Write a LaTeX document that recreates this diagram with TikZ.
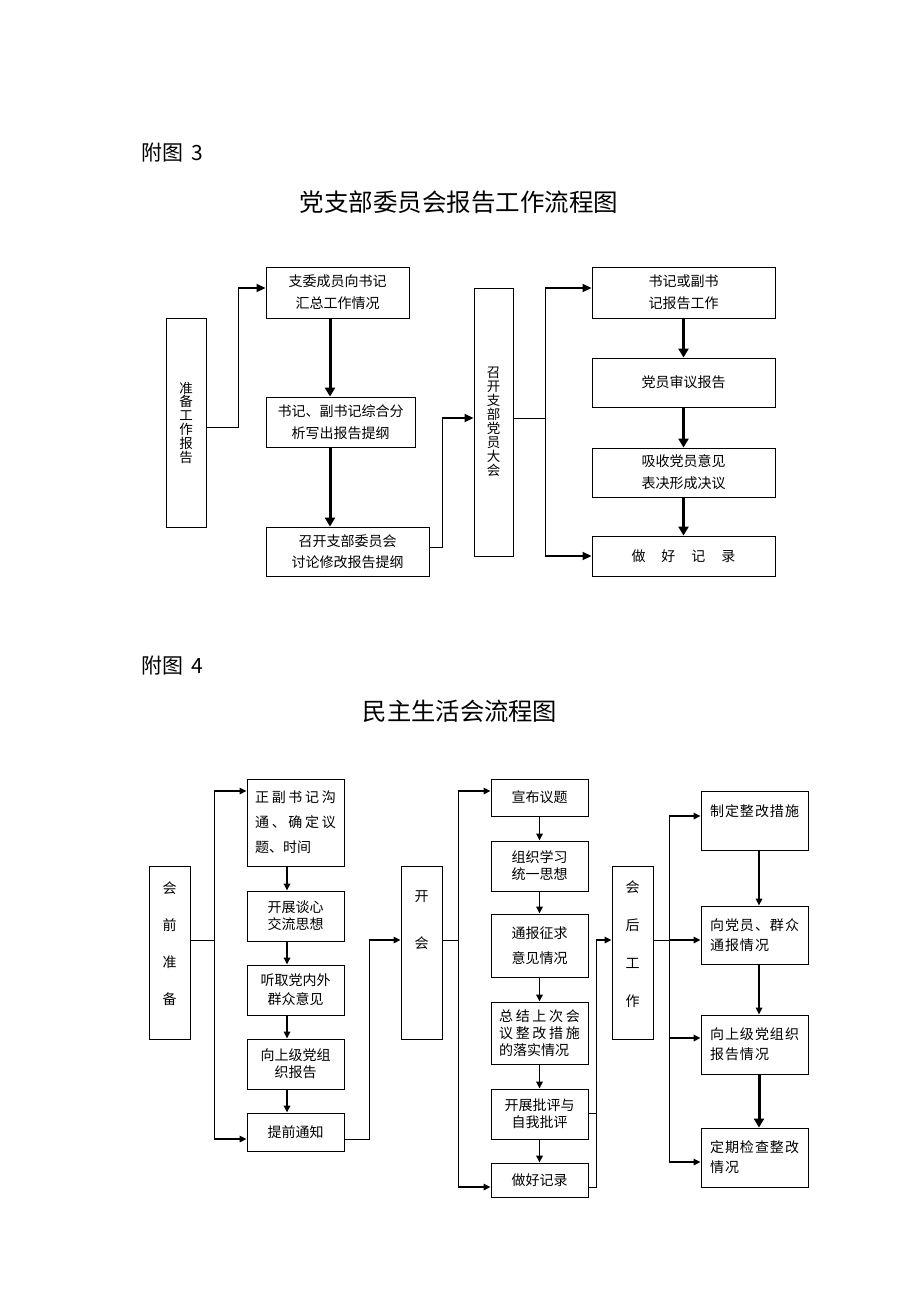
\documentclass[tikz,border=0pt]{standalone}
\usepackage{fontspec}
\setmainfont{Noto Sans CJK SC}
\usetikzlibrary{arrows.meta}
\newcommand\gp{\hspace{2.7pt}}
\newcommand\gq{\hspace{1pt}}
\begin{document}
\begin{tikzpicture}[x=1pt,y=-1pt,
  box/.style={draw, line width=0.9pt, inner sep=0pt, align=center},
  tt/.style={font=\fontsize{14}{22}\selectfont},
  bt/.style={font=\fontsize{14}{17}\selectfont},
  conn/.style={line width=1pt},
  arrV/.style={line width=3pt, -{Triangle[length=9pt,width=10pt]}},
  arrH/.style={line width=1.8pt, -{Triangle[length=9pt,width=8pt]}},
  arrB/.style={line width=1.5pt, -{Triangle[length=7pt,width=6.5pt]}},
  plain/.style={inner sep=0pt}
]
\useasboundingbox (0,0) rectangle (920,1302);

% ---------- headings ----------
\node[plain, anchor=west, font=\fontsize{21}{25}\selectfont] (h3) at (141,152.5) {附图\hspace{8pt}3};
\node[plain, font=\fontsize{24.5}{28}\selectfont] (t3) at (459,202) {党支部委员会报告工作流程图};
\node[plain, anchor=west, font=\fontsize{21}{25}\selectfont] (h4) at (141,666) {附图\hspace{8pt}4};
\node[plain, font=\fontsize{24.3}{28}\selectfont] (t4) at (460,711) {民主生活会流程图};

% ---------- top diagram ----------
\node[box, minimum width=40pt, minimum height=209pt, font=\fontsize{13.5}{13.8}\selectfont] (p1) at (186,422.5) {准\\备\\工\\作\\报\\告};
\node[box, tt, minimum width=143pt, minimum height=51pt] (b1) at (337.5,292.5) {支委成员向书记\\汇总工作情况};
\node[box, tt, minimum width=149pt, minimum height=50pt] (b2) at (340.5,422) {书记、副书记综合分\\析写出报告提纲};
\node[box, tt, minimum width=163pt, minimum height=49pt, font=\fontsize{14}{21}\selectfont] (b3) at (347.5,551.5) {召开支部委员会\\讨论修改报告提纲};
\node[box, minimum width=39pt, minimum height=268pt, font=\fontsize{13.5}{14}\selectfont] (m1) at (493.5,422) {召\\开\\支\\部\\党\\员\\大\\会};
\node[box, tt, minimum width=183pt, minimum height=51pt] (r1) at (683.5,292.5) {书记或副书\\记报告工作};
\node[box, tt, minimum width=183pt, minimum height=49pt] (r2) at (683.5,382.5) {党员审议报告};
\node[box, tt, minimum width=183pt, minimum height=49pt] (r3) at (683.5,472.5) {吸收党员意见\\表决形成决议};
\node[box, tt, minimum width=183pt, minimum height=40pt] (r4) at (683.5,556) {做\hspace{16pt}好\hspace{16pt}记\hspace{16pt}录};

\coordinate (xa) at (330,0);
\coordinate (ja0) at (238,427);
\coordinate (ja) at (238,288);
\draw[conn] (p1.east |- ja0) -- (ja0) -- (ja);
\draw[arrH] (ja) -- (ja -| b1.west);
\draw[arrV] (b1.south -| xa) -- (b2.north -| xa);
\draw[arrV] (b2.south -| xa) -- (b3.north -| xa);
\coordinate (jb0) at (442,547);
\coordinate (jb) at (442,418);
\draw[conn] (b3.east |- jb0) -- (jb0) -- (jb);
\draw[arrH] (jb) -- (jb -| m1.west);
\coordinate (jc) at (545,418);
\coordinate (jd) at (545,288);
\coordinate (je) at (545,556);
\draw[conn] (m1.east |- jc) -- (jc);
\draw[conn] (jd) -- (je);
\draw[arrH] (jd) -- (jd -| r1.west);
\draw[arrH] (je) -- (je -| r4.west);
\draw[arrV] (r1.south) -- (r2.north);
\draw[arrV] (r2.south) -- (r3.north);
\draw[arrV] (r3.south) -- (r4.north);

% ---------- bottom diagram ----------
\node[box, minimum width=41pt, minimum height=173pt] (L1) at (169.5,952.5) {};
\node[plain, align=center, font=\fontsize{14}{37}\selectfont] (L1t) at (169.5,944) {会\\前\\准\\备};
\node[box, bt, minimum width=97pt, minimum height=87pt, align=left, font=\fontsize{14}{25}\selectfont] (A1) at (295.5,822.5) {正\gp{}副\gp{}书\gp{}记\gp{}沟\\通\gp{}、\gp{}确\gp{}定\gp{}议\\题、时间};
\node[box, bt, minimum width=97pt, minimum height=50pt] (A2) at (295.5,916) {开展谈心\\交流思想};
\node[box, bt, minimum width=97pt, minimum height=50pt, font=\fontsize{14}{19}\selectfont] (A3) at (295.5,990) {听取党内外\\群众意见};
\node[box, bt, minimum width=97pt, minimum height=50pt] (A4) at (295.5,1064) {向上级党组\\织报告};
\node[box, bt, minimum width=97pt, minimum height=38pt] (A5) at (295.5,1132) {提前通知};

\node[box, minimum width=41pt, minimum height=173pt] (K1) at (421.5,952.5) {};
\node[plain, align=center, font=\fontsize{14}{47}\selectfont] (K1t) at (421.5,920) {开\\会};

\node[box, bt, minimum width=97pt, minimum height=37pt] (B1) at (539.5,797.5) {宣布议题};
\node[box, bt, minimum width=97pt, minimum height=50pt] (B2) at (539.5,866) {组织学习\\统一思想};
\node[box, bt, minimum width=97pt, minimum height=63pt, font=\fontsize{14}{25}\selectfont] (B3) at (539.5,945.5) {通报征求\\意见情况};
\node[box, bt, minimum width=97pt, minimum height=62pt, align=left] (B4) at (539.5,1033) {总\gp{}结\gp{}上\gp{}次\gp{}会\\议\gp{}整\gp{}改\gp{}措\gp{}施\\的落实情况};
\node[box, bt, minimum width=97pt, minimum height=50pt] (B5) at (539.5,1114) {开展批评与\\自我批评};
\node[box, bt, minimum width=97pt, minimum height=34pt] (B6) at (539.5,1180) {做好记录};

\node[box, minimum width=41pt, minimum height=173pt] (H1) at (632.5,952.5) {};
\node[plain, align=center, font=\fontsize{14}{38}\selectfont] (H1t) at (632.5,944) {会\\后\\工\\作};

\node[box, bt, minimum width=107pt, minimum height=59pt, align=left, font=\fontsize{14}{20}\selectfont] (C1) at (754.5,820.5) {制\gq{}定\gq{}整\gq{}改\gq{}措\gq{}施\\\mbox{}};
\node[box, bt, minimum width=107pt, minimum height=58pt, align=left, font=\fontsize{14}{20}\selectfont] (C2) at (754.5,935) {向\gq{}党\gq{}员\gq{}、\gq{}群\gq{}众\\通\gq{}报\gq{}情\gq{}况};
\node[box, bt, minimum width=107pt, minimum height=59pt, align=left, font=\fontsize{14}{20}\selectfont] (C3) at (754.5,1044.5) {向\gq{}上\gq{}级\gq{}党\gq{}组\gq{}织\\报\gq{}告\gq{}情\gq{}况};
\node[box, bt, minimum width=107pt, minimum height=59pt, align=left, font=\fontsize{14}{20}\selectfont] (C4) at (754.5,1157.5) {定\gq{}期\gq{}检\gq{}查\gq{}整\gq{}改\\情\gq{}况};

% connectors left group
\coordinate (k1) at (214,940);
\coordinate (k0) at (214,791);
\coordinate (k2) at (214,1139);
\draw[conn] (L1.east |- k1) -- (k1);
\draw[conn] (k0) -- (k2);
\draw[arrB] (k0) -- (k0 -| A1.west);
\draw[arrB] (k2) -- (k2 -| A5.west);
\coordinate (xb) at (287,0);
\draw[arrB] (A1.south -| xb) -- (A2.north -| xb);
\draw[arrB] (A2.south -| xb) -- (A3.north -| xb);
\draw[arrB] (A3.south -| xb) -- (A4.north -| xb);
\draw[arrB] (A4.south -| xb) -- (A5.north -| xb);
\coordinate (k3) at (369,1139);
\coordinate (k4) at (369,940);
\draw[conn] (A5.east |- k3) -- (k3) -- (k4);
\draw[arrB] (k4) -- (k4 -| K1.west);

% connectors middle group
\coordinate (n1) at (458,940);
\coordinate (n0) at (458,791);
\coordinate (n2) at (458,1187);
\draw[conn] (K1.east |- n1) -- (n1);
\draw[conn] (n0) -- (n2);
\draw[arrB] (n0) -- (n0 -| B1.west);
\draw[arrB] (n2) -- (n2 -| B6.west);
\draw[arrB] (B1.south) -- (B2.north);
\draw[arrB] (B2.south) -- (B3.north);
\draw[arrB] (B3.south) -- (B4.north);
\draw[arrB] (B4.south) -- (B5.north);
\draw[arrB] (B5.south) -- (B6.north);
\coordinate (q1) at (596,1113);
\coordinate (q2) at (596,1187);
\coordinate (q0) at (596,940);
\draw[conn] (B5.east |- q1) -- (q1);
\draw[conn] (B6.east |- q2) -- (q2) -- (q0);
\draw[arrB] (q0) -- (q0 -| H1.west);

% connectors right group
\coordinate (s1) at (669,940);
\coordinate (s0) at (669,816);
\coordinate (s3) at (669,1038);
\coordinate (s4) at (669,1162);
\draw[conn] (H1.east |- s1) -- (s1);
\draw[conn] (s0) -- (s4);
\draw[arrB] (s0) -- (s0 -| C1.west);
\draw[arrB] (s1) -- (s1 -| C2.west);
\draw[arrB] (s3) -- (s3 -| C3.west);
\draw[arrB] (s4) -- (s4 -| C4.west);
\coordinate (xc) at (759,0);
\draw[arrB] (C1.south -| xc) -- (C2.north -| xc);
\draw[arrB] (C2.south -| xc) -- (C3.north -| xc);
\draw[arrV] (C3.south -| xc) -- (C4.north -| xc);
\end{tikzpicture}
\end{document}
